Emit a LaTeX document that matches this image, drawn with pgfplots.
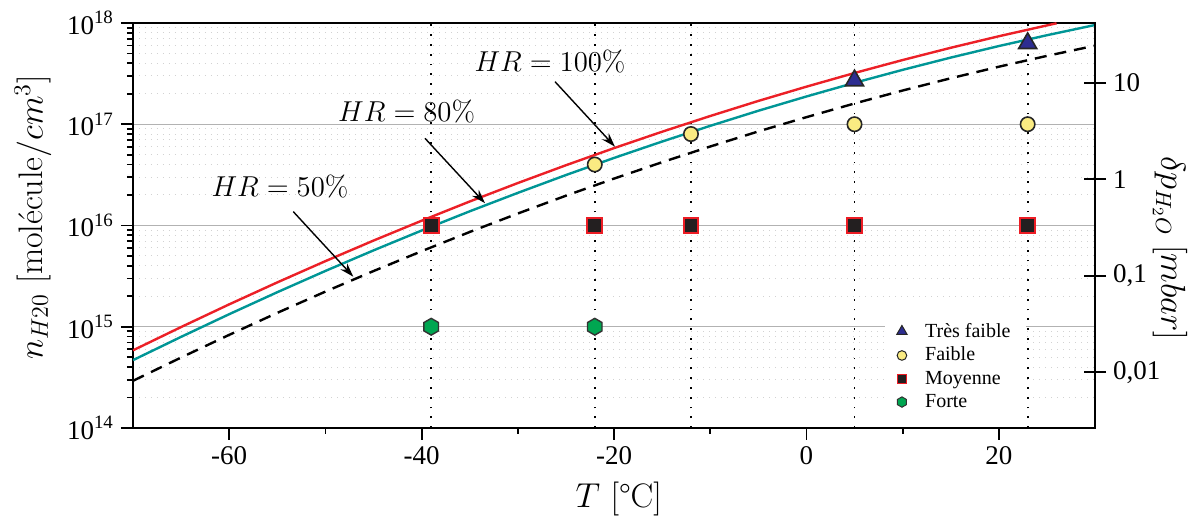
\documentclass[border=0pt]{standalone}
\usepackage[no-math]{fontspec}
\setmainfont{Liberation Serif}
\newfontfamily\lmr{Latin Modern Roman}
\usepackage{pgfplots}
\pgfplotsset{compat=1.18}
\usetikzlibrary{arrows.meta}

\definecolor{hrred}{RGB}{236,32,39}
\definecolor{hrteal}{RGB}{0,150,150}
\definecolor{trnavy}{RGB}{45,45,145}
\definecolor{fyellow}{RGB}{250,235,130}
\definecolor{msq}{RGB}{35,31,32}
\definecolor{mred}{RGB}{237,28,36}
\definecolor{fgreen}{RGB}{0,166,81}

\pgfdeclareplotmark{hexagon*}{%
  \pgfpathmoveto{\pgfpointpolar{90}{\pgfplotmarksize}}%
  \pgfpathlineto{\pgfpointpolar{150}{\pgfplotmarksize}}%
  \pgfpathlineto{\pgfpointpolar{210}{\pgfplotmarksize}}%
  \pgfpathlineto{\pgfpointpolar{270}{\pgfplotmarksize}}%
  \pgfpathlineto{\pgfpointpolar{330}{\pgfplotmarksize}}%
  \pgfpathlineto{\pgfpointpolar{30}{\pgfplotmarksize}}%
  \pgfpathclose
  \pgfusepathqfillstroke}

\pgfplotstableread{
T n
-70 4.677e14
-65 7.943e14
-60 1.330e15
-55 2.193e15
-50 3.556e15
-45 5.675e15
-40 8.913e15
-35 1.380e16
-30 2.099e16
-25 3.148e16
-20 4.645e16
-15 6.745e16
-10 9.638e16
-5 1.358e17
0 1.879e17
5 2.564e17
10 3.443e17
15 4.550e17
20 5.916e17
25 7.568e17
30 9.550e17
}\tealdata

\pgfplotstableread{
T n
-70 5.846e14
-65 9.929e14
-60 1.663e15
-55 2.741e15
-50 4.445e15
-45 7.094e15
-40 1.114e16
-35 1.725e16
-30 2.624e16
-25 3.935e16
-20 5.806e16
-15 8.431e16
-10 1.205e17
-5 1.698e17
0 2.349e17
5 3.205e17
10 4.304e17
15 5.688e17
20 7.395e17
25 9.460e17
26 9.930e17
}\reddata

\pgfplotstableread{
T n
-70 2.923e14
-65 4.964e14
-60 8.313e14
-55 1.371e15
-50 2.223e15
-45 3.547e15
-40 5.571e15
-35 8.625e15
-30 1.312e16
-25 1.968e16
-20 2.903e16
-15 4.216e16
-10 6.024e16
-5 8.488e16
0 1.174e17
5 1.603e17
10 2.152e17
15 2.844e17
20 3.698e17
25 4.730e17
30 5.969e17
}\dashdata

\begin{document}
\begin{tikzpicture}
\begin{axis}[name=main,
  scale only axis, width=481pt, height=202.5pt,
  xmin=-70, xmax=30, ymode=log, ymin=1e14, ymax=1e18,
  xtick={-60,-40,-20,0,20}, xticklabels={-60,-40,-20,0,20},
  minor x tick num=1,
  ytick={1e14,1e15,1e16,1e17,1e18},
  yticklabels={10\textsuperscript{14},10\textsuperscript{15},10\textsuperscript{16},10\textsuperscript{17},10\textsuperscript{18}},
  xtick pos=bottom, ytick pos=left,
  tick align=outside,
  major tick length=6pt, minor tick length=3pt,
  tick style={black, line width=0.9pt},
  axis line style={line width=1.2pt},
  ymajorgrids, yminorgrids,
  major grid style={gray!60, line width=0.5pt},
  minor grid style={gray!35, dash pattern=on 0.6pt off 2.4pt, line width=0.5pt},
  ticklabel style={font=\fontsize{13.5}{15}\selectfont},
  xlabel={{\lmr$T$ [°C]}},
  xlabel style={at={(axis description cs:0.505,-0.175)}, anchor=center, font=\lmr\fontsize{17}{20}\selectfont},
  ylabel={$n_{H20}$ [molécule$/cm^3$]},
  ylabel style={at={(axis description cs:-0.104,0.52)}, anchor=center, font=\lmr\fontsize{17}{20}\selectfont},
  legend style={at={(0.781,0.285)}, anchor=north west, draw=none, fill=white,
    font=\fontsize{10}{11.5}\selectfont, inner xsep=6pt, inner ysep=3pt, row sep=-0.5pt,
    /tikz/every odd column/.append style={column sep=7pt}},
  legend cell align=left,
]
% vertical dotted guides
\addplot[forget plot, black, line width=0.9pt, dash pattern=on 0.9pt off 4pt] coordinates {(-39,1e14) (-39,1e18)};
\addplot[forget plot, black, line width=0.9pt, dash pattern=on 0.9pt off 4pt] coordinates {(-22,1e14) (-22,1e18)};
\addplot[forget plot, black, line width=0.9pt, dash pattern=on 0.9pt off 4pt] coordinates {(-12,1e14) (-12,1e18)};
\addplot[forget plot, black, line width=0.9pt, dash pattern=on 0.9pt off 4pt] coordinates {(5,1e14) (5,1e18)};
\addplot[forget plot, black, line width=0.9pt, dash pattern=on 0.9pt off 4pt] coordinates {(23,1e14) (23,1e18)};
% curves
\addplot[forget plot, hrred, line width=1.2pt, no markers] table[x=T,y=n] {\reddata};
\addplot[forget plot, hrteal, line width=1.2pt, no markers] table[x=T,y=n] {\tealdata};
\addplot[forget plot, black, line width=1.2pt, dash pattern=on 6pt off 4pt, no markers] table[x=T,y=n] {\dashdata};
% markers
\addplot[forget plot, only marks, mark=hexagon*, mark size=4.2pt, mark options={fill=fgreen, draw=black!80, line width=0.7pt}] coordinates {(-39,1e15) (-22,1e15)};
\addplot[forget plot, only marks, mark=square*, mark size=3.7pt, mark options={fill=msq, draw=mred, line width=1pt}] coordinates {(-39,1e16) (-22,1e16) (-12,1e16) (5,1e16) (23,1e16)};
\addplot[forget plot, only marks, mark=*, mark size=3.6pt, mark options={fill=fyellow, draw=black!85, line width=0.8pt}] coordinates {(-22,4e16) (-12,8e16) (5,1e17) (23,1e17)};
\addplot[forget plot, only marks, mark=triangle*, mark size=5.2pt, mark options={fill=trnavy, draw=black!85, line width=0.8pt}] coordinates {(5,2.7e17) (23,6.3e17)};
% legend
\addlegendimage{only marks, mark=triangle*, mark size=3pt, mark options={fill=trnavy, draw=black!85, line width=0.5pt}}
\addlegendentry{Très faible}
\addlegendimage{only marks, mark=*, mark size=2.4pt, mark options={fill=fyellow, draw=black!85, line width=0.5pt}}
\addlegendentry{Faible}
\addlegendimage{only marks, mark=square*, mark size=2.3pt, mark options={fill=msq, draw=mred, line width=0.6pt}}
\addlegendentry{Moyenne}
\addlegendimage{only marks, mark=hexagon*, mark size=2.6pt, mark options={fill=fgreen, draw=black!80, line width=0.5pt}}
\addlegendentry{Forte}
% annotations
\node[font=\lmr\fontsize{14.5}{16}\selectfont] at (axis cs:-26.65,4.15e17) {$HR = 100\%$};
\node[font=\lmr\fontsize{14.5}{16}\selectfont] at (axis cs:-41.55,1.33e17) {$HR = 80\%$};
\node[font=\lmr\fontsize{14.5}{16}\selectfont] at (axis cs:-54.72,2.42e16) {$HR = 50\%$};
\draw[-{Stealth[length=7pt,width=4.5pt]}, line width=0.7pt] (axis cs:-26.13,2.63e17) -- (axis cs:-19.9,6.0e16);
\draw[-{Stealth[length=7pt,width=4.5pt]}, line width=0.7pt] (axis cs:-39.65,7.26e16) -- (axis cs:-33.41,1.66e16);
\draw[-{Stealth[length=7pt,width=4.5pt]}, line width=0.7pt] (axis cs:-53.34,1.37e16) -- (axis cs:-47.1,3.12e15);
\end{axis}
\begin{axis}[
  scale only axis, width=481pt, height=202.5pt,
  xmin=0, xmax=1, axis x line=none,
  axis y line*=right,
  ymode=log, ymin=0.00263, ymax=42,
  ytick={0.01,0.1,1,10}, yticklabels={{0,01},{0,1},{1},{10}},
  yminorticks=false,
  tick align=center, major tick length=11pt,
  tick style={black, line width=0.9pt},
  axis line style={line width=1.2pt},
  ticklabel style={font=\fontsize{13.5}{15}\selectfont},
  ylabel={$\delta p_{H_2O}\ [mbar]$},
  ylabel style={at={(axis description cs:1.078,0.444)}, anchor=center, rotate=-180, font=\lmr\fontsize{16}{19}\selectfont},
]
\end{axis}
\pgfresetboundingbox
\path (main.south west) ++(-66.5pt,-44.5pt) rectangle ([shift={(52pt,11.5pt)}]main.north east);
\end{tikzpicture}
\end{document}
